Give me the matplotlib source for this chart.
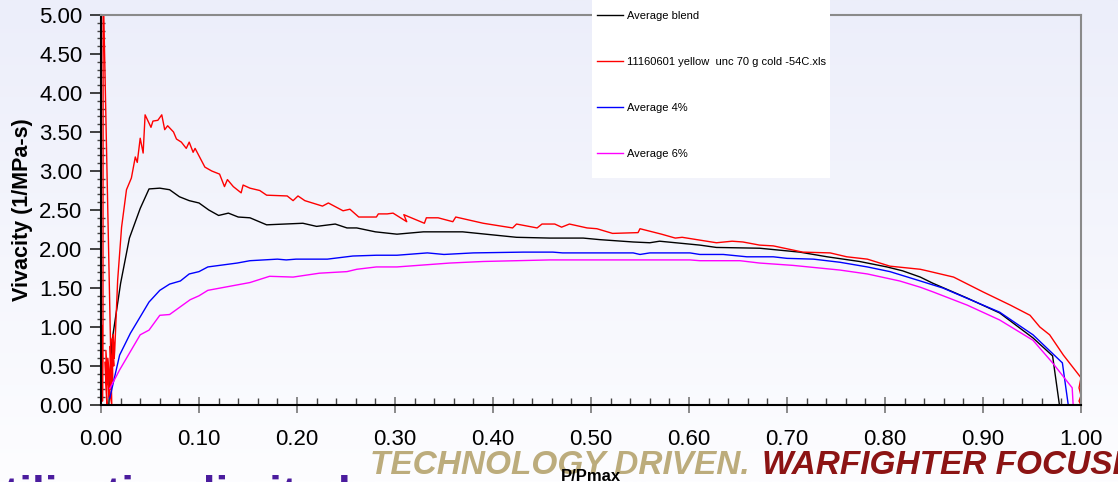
import numpy as np
import matplotlib
matplotlib.use("Agg")
import matplotlib.pyplot as plt
from matplotlib.lines import Line2D
from matplotlib.patches import Rectangle
from matplotlib.colors import LinearSegmentedColormap
from matplotlib.ticker import MultipleLocator, FormatStrFormatter

plt.rcParams['font.family'] = ['Liberation Sans', 'DejaVu Sans']

# Average blend
blend_x = [0.008, 0.011, 0.020, 0.029, 0.040, 0.049, 0.060, 0.070, 0.080, 0.090,
           0.100, 0.110, 0.120, 0.130, 0.140, 0.152, 0.169, 0.206, 0.220, 0.239,
           0.251, 0.261, 0.280, 0.302, 0.329, 0.369, 0.424, 0.458, 0.492, 0.509,
           0.543, 0.560, 0.570, 0.611, 0.628, 0.672, 0.713, 0.741, 0.774, 0.802,
           0.818, 0.836, 0.849, 0.884, 0.917, 0.951, 0.971, 0.978]
blend_y = [0.00, 0.80, 1.56, 2.14, 2.52, 2.77, 2.78, 2.76, 2.67, 2.62,
           2.59, 2.50, 2.43, 2.46, 2.41, 2.40, 2.31, 2.33, 2.29, 2.32,
           2.27, 2.27, 2.22, 2.19, 2.22, 2.22, 2.15, 2.14, 2.14, 2.12,
           2.09, 2.08, 2.10, 2.05, 2.02, 2.01, 1.96, 1.90, 1.84, 1.77,
           1.72, 1.64, 1.56, 1.37, 1.18, 0.86, 0.63, 0.00]

# single test file, cold
cold_x = [0.000, 0.001, 0.0015, 0.002, 0.0022, 0.011, 0.004, 0.006, 0.005, 0.008,
          0.007, 0.010, 0.009, 0.012, 0.0115, 0.013, 0.0125, 0.0135,
          0.014, 0.017, 0.021, 0.026, 0.031, 0.035, 0.037, 0.040, 0.043, 0.045,
          0.051, 0.053, 0.058, 0.062, 0.065, 0.068, 0.074, 0.077, 0.082, 0.087,
          0.090, 0.094, 0.096, 0.106, 0.113, 0.121, 0.126, 0.129, 0.135, 0.143,
          0.145, 0.152, 0.162, 0.169, 0.190, 0.196, 0.201, 0.208, 0.226, 0.232,
          0.247, 0.254, 0.263, 0.281, 0.283, 0.292, 0.298, 0.312, 0.309, 0.330,
          0.332, 0.344, 0.359, 0.362, 0.390, 0.420, 0.424, 0.445, 0.450, 0.463,
          0.470, 0.478, 0.496, 0.506, 0.522, 0.548, 0.550, 0.572, 0.586, 0.593,
          0.628, 0.644, 0.655, 0.672, 0.686, 0.716, 0.744, 0.761, 0.782, 0.805,
          0.836, 0.843, 0.870, 0.900, 0.928, 0.948, 0.958, 0.968, 0.982, 1.000,
          0.998, 1.000, 0.998, 1.000, 0.948]
cold_y = [0.00, 1.02, 0.05, 0.55, 5.40, 0.00, 0.55, 0.00, 0.70, 0.10,
          0.60, 0.20, 0.75, 0.30, 0.85, 0.50, 0.90, 0.60,
          0.70, 1.60, 2.28, 2.76, 2.91, 3.18, 3.11, 3.42, 3.23, 3.72,
          3.56, 3.64, 3.65, 3.72, 3.53, 3.58, 3.50, 3.41, 3.37, 3.29,
          3.37, 3.24, 3.29, 3.05, 3.00, 2.96, 2.80, 2.89, 2.80, 2.72,
          2.82, 2.78, 2.75, 2.69, 2.68, 2.62, 2.68, 2.62, 2.55, 2.59,
          2.49, 2.51, 2.41, 2.41, 2.45, 2.45, 2.46, 2.35, 2.44, 2.33,
          2.40, 2.40, 2.35, 2.41, 2.33, 2.27, 2.32, 2.27, 2.32, 2.32,
          2.28, 2.32, 2.27, 2.26, 2.20, 2.21, 2.26, 2.19, 2.14, 2.15,
          2.08, 2.10, 2.09, 2.05, 2.04, 1.96, 1.95, 1.90, 1.87, 1.78,
          1.74, 1.72, 1.64, 1.45, 1.28, 1.15, 1.00, 0.90, 0.64, 0.35,
          0.22, 0.12, 0.05, 0.00, 0.00]

# Average 4%
avg4_x = [0.009, 0.019, 0.030, 0.040, 0.049, 0.060, 0.070, 0.081, 0.090, 0.100,
          0.109, 0.139, 0.152, 0.180, 0.189, 0.199, 0.231, 0.257, 0.281, 0.302,
          0.333, 0.350, 0.380, 0.431, 0.461, 0.471, 0.543, 0.550, 0.560, 0.601,
          0.611, 0.635, 0.659, 0.686, 0.700, 0.727, 0.754, 0.782, 0.805, 0.836,
          0.859, 0.917, 0.951, 0.981, 0.987]
avg4_y = [0.09, 0.64, 0.92, 1.13, 1.32, 1.47, 1.55, 1.59, 1.68, 1.71,
          1.77, 1.82, 1.85, 1.87, 1.86, 1.87, 1.87, 1.91, 1.92, 1.92,
          1.95, 1.93, 1.95, 1.96, 1.96, 1.95, 1.95, 1.93, 1.95, 1.95,
          1.93, 1.93, 1.90, 1.90, 1.88, 1.87, 1.83, 1.77, 1.71, 1.59,
          1.50, 1.19, 0.90, 0.54, 0.00]

# Average 6%
avg6_x = [0.009, 0.019, 0.040, 0.049, 0.060, 0.070, 0.091, 0.100, 0.109, 0.152,
          0.172, 0.196, 0.223, 0.251, 0.261, 0.281, 0.302, 0.356, 0.390, 0.458,
          0.601, 0.611, 0.652, 0.672, 0.706, 0.754, 0.782, 0.815, 0.836, 0.849,
          0.884, 0.917, 0.951, 0.971, 0.991, 0.992]
avg6_y = [0.21, 0.45, 0.90, 0.96, 1.15, 1.16, 1.35, 1.40, 1.47, 1.57,
          1.65, 1.64, 1.69, 1.71, 1.74, 1.77, 1.77, 1.82, 1.84, 1.86,
          1.86, 1.85, 1.85, 1.82, 1.79, 1.73, 1.68, 1.59, 1.51, 1.45,
          1.28, 1.09, 0.83, 0.54, 0.22, 0.00]

series_labels = ["Average blend", "11160601 yellow  unc 70 g cold -54C.xls",
                 "Average 4%", "Average 6%"]
series_colors = ["#000000", "#ff0000", "#0000ff", "#ff00ff"]

W, H = 1118, 482
fig = plt.figure(figsize=(W / 100, H / 100), dpi=100)

# soft lavender page background
bg = fig.add_axes([0, 0, 1, 1], zorder=-10)
cmap = LinearSegmentedColormap.from_list("page", ["#eceefa", "#fdfdff"])
bg.imshow(np.linspace(0, 1, 256).reshape(-1, 1), aspect="auto", cmap=cmap,
          extent=[0, 1, 0, 1])
bg.set_axis_off()

ax = fig.add_axes([101 / W, 1 - 405 / H, 980 / W, 390 / H])
ax.set_facecolor("none")

data = [(blend_x, blend_y), (cold_x, cold_y), (avg4_x, avg4_y), (avg6_x, avg6_y)]
for (xs, ys), col in zip(data, series_colors):
    ax.plot(xs, ys, color=col, lw=1.0)

ax.set_xlim(0, 1)
ax.set_ylim(0, 5)
ax.xaxis.set_major_locator(MultipleLocator(0.1))
ax.xaxis.set_minor_locator(MultipleLocator(0.02))
ax.yaxis.set_major_locator(MultipleLocator(0.5))
ax.yaxis.set_minor_locator(MultipleLocator(0.1))
ax.xaxis.set_major_formatter(FormatStrFormatter("%.2f"))
ax.yaxis.set_major_formatter(FormatStrFormatter("%.2f"))

ax.tick_params(axis="x", which="major", direction="inout", length=12,
               width=1.2, color="#777777", pad=11, labelsize=16)
ax.tick_params(axis="x", which="minor", direction="in", length=5,
               width=1.0, color="#444444")
ax.tick_params(axis="y", which="major", direction="out", length=8,
               width=1.2, color="#222222", pad=5.5, labelsize=16)
ax.tick_params(axis="y", which="minor", direction="inout", length=6,
               width=1.0, color="#444444")

for side in ("top", "right"):
    ax.spines[side].set_color("#8a8a8a")
    ax.spines[side].set_linewidth(1.5)
for side in ("left", "bottom"):
    ax.spines[side].set_color("#000000")
    ax.spines[side].set_linewidth(1.5)

ax.set_ylabel("Vivacity (1/MPa-s)", fontsize=15.5, fontweight="bold", labelpad=4)
ax.set_xlabel("P/Pmax", fontsize=12, fontweight="bold")
ax.xaxis.set_label_coords(0.5, (405 - 469) / 390)

# legend panel
fig.patches.append(Rectangle((592 / W, 1 - 178 / H), 238 / W, 178 / H,
                             transform=fig.transFigure, facecolor="white",
                             edgecolor="none", zorder=2))
handles = [Line2D([], [], color=c, lw=1.0) for c in series_colors]
fig.legend(handles, series_labels, loc="upper left",
           bbox_to_anchor=(597 / W, 1 - 11 / H), frameon=False, fontsize=8,
           labelspacing=3.25, handlelength=2.3, handletextpad=0.4,
           borderaxespad=0, borderpad=0)

# footer banner
fig.text(370 / W, 1 - 474 / H, "TECHNOLOGY DRIVEN.", color="#bcac7c",
         fontsize=24, fontweight="bold", style="italic", zorder=-1,
         va="baseline")
fig.text(762 / W, 1 - 474 / H, "WARFIGHTER FOCUSED.", color="#8c1414",
         fontsize=24, fontweight="bold", style="italic", zorder=-1,
         va="baseline")
fig.text(4 / W, 1 - 509 / H, "tilization limited", color="#4b1c9e",
         fontsize=33, fontweight="bold", zorder=-1, va="baseline")

fig.savefig("out.png", dpi=100)
